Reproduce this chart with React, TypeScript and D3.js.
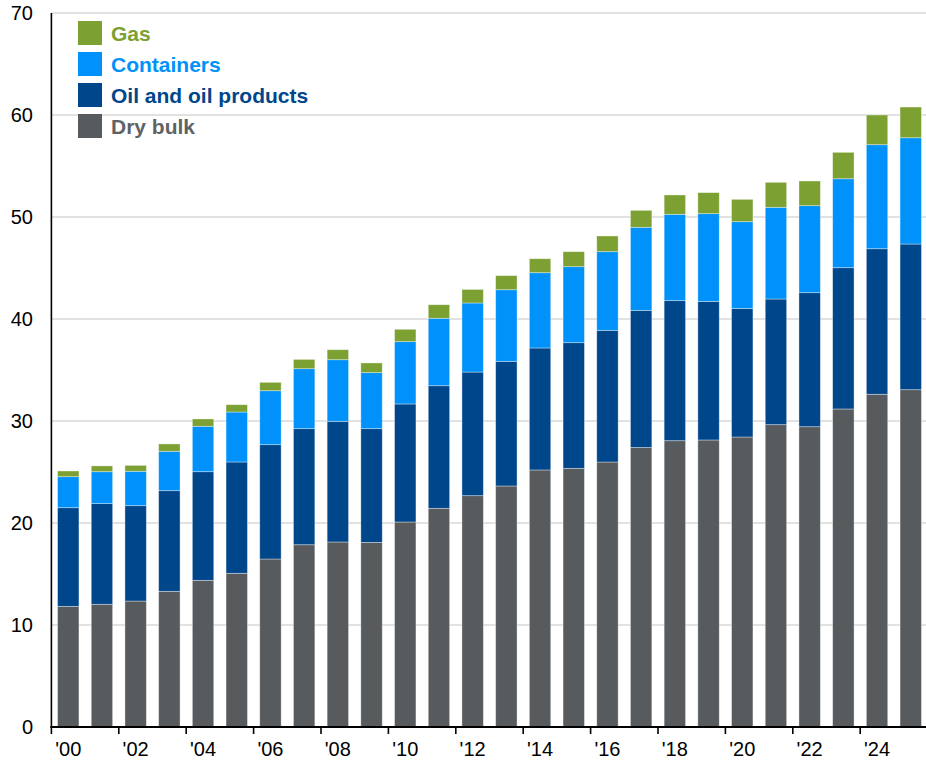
import React from "react";
import * as d3 from "d3";

const years = d3.range(2000, 2026).map(String);
const dryBulk = [11.83, 12.03, 12.35, 13.3, 14.38, 15.07, 16.47, 17.87, 18.14, 18.1, 20.1, 21.44, 22.68, 23.63, 25.2, 25.36, 25.98, 27.4, 28.07, 28.14, 28.43, 29.64, 29.44, 31.18, 32.62, 33.07];
const oil = [9.67, 9.87, 9.35, 9.87, 10.65, 10.91, 11.21, 11.38, 11.83, 11.15, 11.57, 12.02, 12.12, 12.22, 11.96, 12.32, 12.91, 13.45, 13.73, 13.59, 12.61, 12.32, 13.14, 13.85, 14.27, 14.28];
const containers = [3.04, 3.13, 3.37, 3.86, 4.45, 4.9, 5.29, 5.88, 6.04, 5.49, 6.11, 6.61, 6.77, 7.02, 7.38, 7.45, 7.71, 8.14, 8.46, 8.6, 8.5, 8.99, 8.53, 8.72, 10.2, 10.42];
const gas = [0.56, 0.57, 0.58, 0.72, 0.72, 0.72, 0.82, 0.91, 0.98, 0.95, 1.21, 1.33, 1.33, 1.38, 1.37, 1.47, 1.54, 1.66, 1.9, 2.06, 2.19, 2.45, 2.42, 2.59, 2.91, 3.01];
const seriesKeys = ["Dry bulk", "Oil and oil products", "Containers", "Gas"];
const yTicks = [0, 10, 20, 30, 40, 50, 60, 70];
const xTickLabels = ["'00", "'02", "'04", "'06", "'08", "'10", "'12", "'14", "'16", "'18", "'20", "'22", "'24"];

const colors: Record<string, string> = {
  "Dry bulk": "#575B5E",
  "Oil and oil products": "#00468B",
  "Containers": "#0092FA",
  "Gas": "#7CA032",
};
const textColors: Record<string, string> = {
  "Dry bulk": "#5F6366",
  "Oil and oil products": "#00468B",
  "Containers": "#0092FA",
  "Gas": "#7CA032",
};

export default function App() {
  const W = 926, H = 766;
  const left = 51.4, right = 927.6;
  const y0 = 727, yTop = 13;
  const x = d3.scaleBand<string>().domain(years).range([left, right]).paddingInner(0.365).paddingOuter(0.1825);
  const y = d3.scaleLinear().domain([0, 70]).range([y0, yTop]);
  const table = years.map((yr, i) => ({
    year: yr,
    "Dry bulk": dryBulk[i],
    "Oil and oil products": oil[i],
    "Containers": containers[i],
    "Gas": gas[i],
  }));
  const stacked = d3.stack<any>().keys(seriesKeys)(table);
  const step = x.step();
  const font = "'Liberation Sans', Arial, sans-serif";
  const legendOrder = ["Gas", "Containers", "Oil and oil products", "Dry bulk"];

  return (
    <svg width={W} height={H} style={{ position: "absolute", left: 0, top: 0, background: "#fff" }}>
      {yTicks.filter((t) => t > 0).map((t) => (
        <line key={"g" + t} x1={left} x2={W} y1={y(t)} y2={y(t)} stroke="#d9d9d9" strokeWidth={1.5} />
      ))}
      {stacked.map((s) => (
        <g key={s.key} fill={colors[s.key]}>
          {s.map((d, i) => (
            <rect
              key={i}
              x={x(years[i])}
              width={x.bandwidth()}
              y={y(d[1])}
              height={y(d[0]) - y(d[1])}
              stroke="rgba(255,255,255,0.45)"
              strokeWidth={0.8}
            />
          ))}
        </g>
      ))}
      <line x1={left} x2={left} y1={yTop} y2={y0 + 1} stroke="#000" strokeWidth={1.6} />
      <line x1={left - 1} x2={W} y1={y0} y2={y0} stroke="#000" strokeWidth={2} />
      {years.filter((_, i) => i % 2 === 0).map((yr) => (
        <line key={"t" + yr} x1={x(yr)! - (step - x.bandwidth()) / 2} x2={x(yr)! - (step - x.bandwidth()) / 2} y1={y0} y2={y0 + 7} stroke="#000" strokeWidth={1.6} />
      ))}
      {years.filter((_, i) => i % 2 === 0).map((yr, k) => (
        <text key={"xl" + yr} x={x(yr)! + x.bandwidth() / 2} y={y0 + 29} textAnchor="middle" fontFamily={font} fontSize={20} fill="#000">
          {xTickLabels[k]}
        </text>
      ))}
      {yTicks.map((t) => (
        <text key={"yl" + t} x={33} y={y(t)} dy="0.35em" textAnchor="end" fontFamily={font} fontSize={20} fill="#000">
          {t}
        </text>
      ))}
      {legendOrder.map((k, i) => (
        <g key={"lg" + k} transform={`translate(78, ${21 + i * 31})`}>
          <rect width={24} height={24} fill={colors[k]} />
          <text x={33} y={13} dy="0.35em" fontFamily={font} fontSize={21} fontWeight="bold" fill={textColors[k]}>
            {k}
          </text>
        </g>
      ))}
    </svg>
  );
}
